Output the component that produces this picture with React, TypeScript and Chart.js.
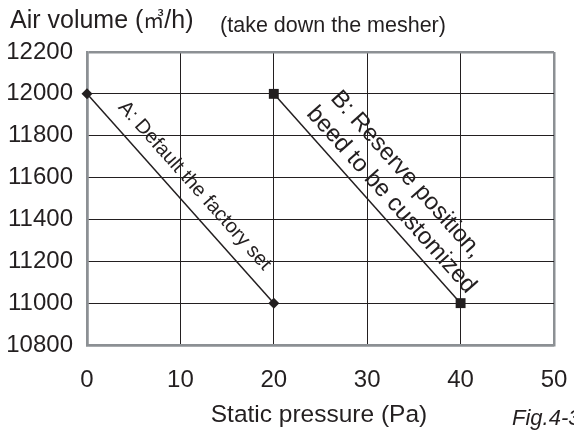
import React, { useEffect, useRef } from "react";
import { Chart, registerables } from "chart.js";

Chart.register(...registerables);

// ---- data ----
const xTickValues = [0, 10, 20, 30, 40, 50];
const yTickValues = [10800, 11000, 11200, 11400, 11600, 11800, 12000, 12200];
const seriesAPressure = [0, 20];
const seriesAVolume = [12000, 11000];
const seriesBPressure = [20, 40];
const seriesBVolume = [12000, 11000];
const labelA = "A: Default the factory set";
const labelB = ["B: Reserve position,", "beed to be customized"];
const yTitleParts = ["Air volume (", "㎥", "/h)"];
const noteText = "(take down the mesher)";
const xTitle = "Static pressure (Pa)";
const figText = "Fig.4-3";

const FONT = "'Liberation Sans', Arial, Helvetica, sans-serif";
const CJK = "'Noto Sans CJK SC', 'Noto Sans CJK JP', sans-serif";
const INK = "#231f20";
const FRAME = "#8c9094";

const textPlugin = {
  id: "textPlugin",
  afterDraw(chart: any) {
    const ctx = chart.ctx;
    const xs = chart.scales.x;
    const ys = chart.scales.y;
    ctx.save();
    ctx.fillStyle = INK;

    // y title drawn in parts (unit glyph from CJK font)
    ctx.textBaseline = "alphabetic";
    ctx.textAlign = "left";
    let cx = 10;
    const base = 28;
    ctx.font = `25px ${FONT}`;
    ctx.fillText(yTitleParts[0], cx, base);
    cx += ctx.measureText(yTitleParts[0]).width;
    ctx.font = `21px ${CJK}`;
    ctx.fillText(yTitleParts[1], cx, base - 1);
    cx += ctx.measureText(yTitleParts[1]).width;
    ctx.font = `25px ${FONT}`;
    ctx.fillText(yTitleParts[2], cx, base);

    ctx.textBaseline = "middle";
    ctx.textAlign = "center";
    ctx.font = `21.5px ${FONT}`;
    ctx.fillText(noteText, 333, 26);
    ctx.font = `24.5px ${FONT}`;
    ctx.fillText(xTitle, 319, 415);
    ctx.textAlign = "left";
    ctx.font = `italic 22px ${FONT}`;
    ctx.fillText(figText, 512, 419);

    const drawAlong = (
      px: number[],
      py: number[],
      lines: string[],
      size: number,
      offs: [number, number][]
    ) => {
      const x0 = xs.getPixelForValue(px[0]);
      const y0 = ys.getPixelForValue(py[0]);
      const x1 = xs.getPixelForValue(px[1]);
      const y1 = ys.getPixelForValue(py[1]);
      const ang = Math.atan2(y1 - y0, x1 - x0);
      ctx.save();
      ctx.translate((x0 + x1) / 2, (y0 + y1) / 2);
      ctx.rotate(ang);
      ctx.font = `${size}px ${FONT}`;
      ctx.textAlign = "center";
      ctx.textBaseline = "middle";
      lines.forEach((t, i) => ctx.fillText(t, offs[i][0], -offs[i][1]));
      ctx.restore();
    };
    drawAlong(seriesAPressure, seriesAVolume, [labelA], 20, [[0, 19]]);
    drawAlong(seriesBPressure, seriesBVolume, labelB, 24, [
      [8, 45],
      [17, 17],
    ]);
    ctx.restore();
  },
};

export default function App() {
  const ref = useRef<HTMLCanvasElement | null>(null);
  useEffect(() => {
    if (!ref.current) return;
    const chart = new Chart(ref.current, {
      type: "line",
      data: {
        datasets: [
          {
            label: "A",
            data: seriesAPressure.map((x, i) => ({ x, y: seriesAVolume[i] })),
            borderColor: INK,
            backgroundColor: INK,
            borderWidth: 1.5,
            pointStyle: "rectRot",
            pointRadius: 5.5,
            pointBorderWidth: 0,
            clip: false as any,
          },
          {
            label: "B",
            data: seriesBPressure.map((x, i) => ({ x, y: seriesBVolume[i] })),
            borderColor: INK,
            backgroundColor: INK,
            borderWidth: 1.5,
            pointStyle: "rect",
            pointRadius: 7,
            pointBorderWidth: 0,
            clip: false as any,
          },
        ],
      },
      options: {
        animation: false,
        responsive: false,
        layout: { padding: { top: 52, right: 0, left: 0, bottom: 0 } },
        plugins: { legend: { display: false }, tooltip: { enabled: false } },
        scales: {
          x: {
            type: "linear",
            min: 0,
            max: 50,
            afterBuildTicks: (s: any) => {
              s.ticks = xTickValues.map((v) => ({ value: v }));
            },
            afterFit: (s: any) => {
              s.height = 90;
              s.paddingLeft = 0;
              s.paddingRight = 20;
            },
            ticks: {
              font: { family: FONT, size: 24 },
              color: INK,
              padding: 21,
              maxRotation: 0,
              autoSkip: false,
              callback: (v: any) => String(v),
            },
            grid: {
              drawTicks: false,
              color: (c: any) =>
                c.tick && (c.tick.value === 50 || c.tick.value === 0) ? FRAME : INK,
              lineWidth: (c: any) =>
                c.tick && (c.tick.value === 50 || c.tick.value === 0) ? 2.5 : 1,
            },
            border: { color: FRAME, width: 2.5 },
          },
          y: {
            type: "linear",
            min: 10800,
            max: 12200,
            afterBuildTicks: (s: any) => {
              s.ticks = yTickValues.map((v) => ({ value: v }));
            },
            afterFit: (s: any) => {
              s.width = 87;
              s.paddingTop = 0;
              s.paddingBottom = 0;
            },
            ticks: {
              font: { family: FONT, size: 24 },
              color: INK,
              padding: 14,
              autoSkip: false,
              callback: (v: any) => String(v),
            },
            grid: {
              drawTicks: false,
              color: (c: any) =>
                c.tick && (c.tick.value === 12200 || c.tick.value === 10800) ? FRAME : INK,
              lineWidth: (c: any) =>
                c.tick && (c.tick.value === 12200 || c.tick.value === 10800) ? 2.5 : 1,
            },
            border: { color: FRAME, width: 2.5 },
          },
        },
      },
      plugins: [textPlugin],
    } as any);
    return () => chart.destroy();
  }, []);
  return (
    <div style={{ position: "fixed", left: 0, top: 0, width: 574, height: 435, background: "#fff" }}>
      <canvas ref={ref} width={574} height={435} style={{ display: "block" }} />
    </div>
  );
}
